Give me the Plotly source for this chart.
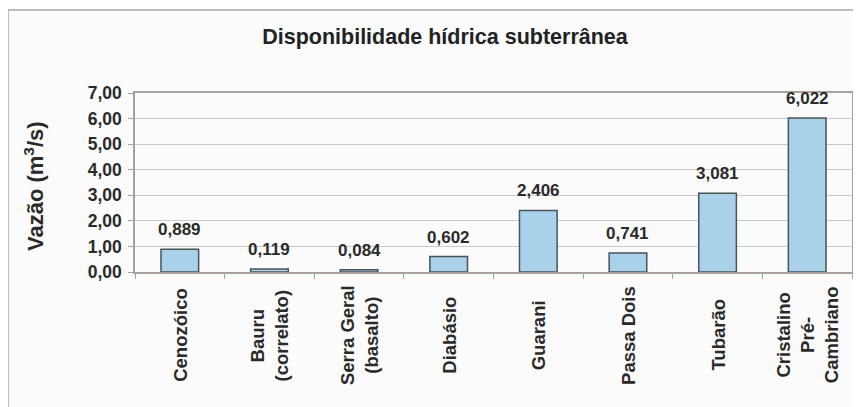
import plotly.graph_objects as go

categories = ["Cenozóico", "Bauru<br>(correlato)", "Serra Geral<br>(basalto)", "Diabásio",
              "Guarani", "Passa Dois", "Tubarão", "Cristalino<br>Pré-<br>Cambriano"]
values = [0.889, 0.119, 0.084, 0.602, 2.406, 0.741, 3.081, 6.022]
y_ticks = [0, 1, 2, 3, 4, 5, 6, 7]

# the page body has an 8px default margin, so figure coords = page coords - 8
OFF = 8
W, H = 861 - OFF, 407 - OFF
L, T = 135 - OFF, 93 - OFF
R = W - (852 - OFF)
B = H - (272 - OFF)
pw, ph = W - L - R, H - T - B

def px_x(p):
    return (p - OFF - L) / pw

def px_y(p):
    return (H - B - (p - OFF)) / ph

FONT = "Liberation Sans, Arial"

fig = go.Figure()
fig.add_trace(go.Bar(
    x=categories, y=values,
    marker=dict(color="#a9d2ea", line=dict(color="#4a5358", width=1.5)),
    width=0.42,
))

# value labels above bars
for c, v in zip(categories, values):
    fig.add_annotation(
        x=c, y=v, xref="x", yref="y",
        text=f"{v:.3f}".replace(".", ","),
        showarrow=False, yanchor="bottom", yshift=8,
        font=dict(family=FONT, size=17, color="#2a2a2a", weight="bold"),
    )

# category labels, rotated and centred below the axis
for c in categories:
    fig.add_annotation(
        x=c, xref="x", y=px_y(335), yref="paper",
        text=c, textangle=-90, align="center",
        showarrow=False, xanchor="center", yanchor="middle",
        font=dict(family=FONT, size=18.5, color="#2a2a2a", weight="bold"),
    )

fig.update_layout(
    width=W, height=H,
    margin=dict(l=L, r=R, t=T, b=B, autoexpand=False),
    paper_bgcolor="#fbfbfb", plot_bgcolor="#fbfbfb",
    separators=",.",
    showlegend=False,
    title=dict(text="Disponibilidade hídrica subterrânea", x=(445 - OFF) / W, xanchor="center",
               y=1 - (36 - OFF) / H, yanchor="middle", automargin=False,
               font=dict(family=FONT, size=21.5, color="#222", weight="bold")),
)
fig.update_yaxes(
    range=[0, 7], tickvals=y_ticks, tickformat=".2f", automargin=False,
    showgrid=True, gridcolor="#c9c9c9", gridwidth=1,
    showline=True, linecolor="#a8a09a", linewidth=1.5, mirror=True,
    ticks="outside", ticklen=5, tickcolor="#a8a09a", ticklabelstandoff=3,
    tickfont=dict(family=FONT, size=17.5, color="#2a2a2a", weight="bold"),
    zeroline=False,
)
fig.update_xaxes(
    automargin=False, showticklabels=False,
    showline=True, linecolor="#a8a09a", linewidth=1.5, mirror=True,
    ticks="outside", ticklen=5, tickcolor="#a8a09a", tickson="boundaries",
)

fig.add_annotation(
    text="Vazão (m<sup>3</sup>/s)", textangle=-90,
    xref="paper", yref="paper", x=px_x(34), y=px_y(186),
    xanchor="center", yanchor="middle", showarrow=False,
    font=dict(family=FONT, size=22, color="#2a2a2a", weight="bold"),
)

# outer chart frame (top and left lines)
fig.add_shape(type="line", xref="paper", yref="paper",
              x0=px_x(8), x1=px_x(870), y0=px_y(10), y1=px_y(10),
              line=dict(color="#bdbdbd", width=2))
fig.add_shape(type="line", xref="paper", yref="paper",
              x0=px_x(8), x1=px_x(8), y0=px_y(10), y1=px_y(415),
              line=dict(color="#bdbdbd", width=2))

fig.write_html("out.html")
